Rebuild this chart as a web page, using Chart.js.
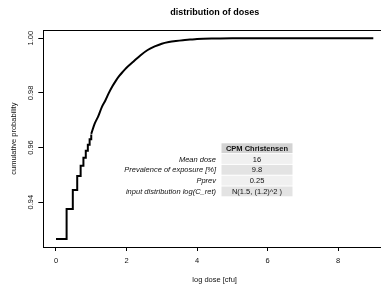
<!DOCTYPE html>
<html>
<head>
<meta charset="utf-8">
<script src="https://cdn.jsdelivr.net/npm/chart.js@4/dist/chart.umd.min.js"></script>
<style>
  html, body { margin: 0; padding: 0; overflow: hidden; background: #fff; }
</style>
</head>
<body>
<canvas id="doseChart" width="386" height="287"></canvas>
<script>
'use strict';

// stair part of the cdf (low doses, integer cfu)
let stepDose = [0, 0.301, 0.477, 0.602, 0.699, 0.778, 0.845, 0.903, 0.954, 1.0];
let stepProb = [0.9265, 0.9375, 0.9445, 0.9496, 0.9533, 0.9563, 0.9588, 0.9610, 0.9630, 0.9648];

// smooth part of the cdf
let curveDose = [1.0, 1.1, 1.2, 1.3, 1.4, 1.5, 1.6, 1.7, 1.8, 1.9, 2.0, 2.2, 2.4, 2.6, 2.8, 3.0, 3.2, 3.4, 3.6, 3.8, 4.0, 4.5, 5.0, 6.0, 7.0, 8.0, 9.0];
let curveProb = [0.9650, 0.9688, 0.9715, 0.9748, 0.9772, 0.9800, 0.9824, 0.9845, 0.9863, 0.9878, 0.9892, 0.9915, 0.9938, 0.9957, 0.9970, 0.9980, 0.9986, 0.9990, 0.9993, 0.9995, 0.9997, 0.9999, 1.0, 1.0, 1.0, 1.0, 1.0];

let xTicks = [0, 2, 4, 6, 8];
let yTicks = [0.94, 0.96, 0.98, 1.00];

// parameter table
let tableHeader = 'CPM Christensen';
let tableLabels = ['Mean dose', 'Prevalence of exposure [%]', 'Pprev', 'input distribution log(C_ret)'];
let tableValues = ['16', '9.8', '0.25', 'N(1.5, (1.2)^2 )'];

const FONT = '"Liberation Sans", Arial, Helvetica, sans-serif';
const TXT = '#111';

let ctx = document.getElementById('doseChart').getContext('2d');

function toPoints (xs, ys) {
  return xs.map((x, i) => ({ x: x, y: ys[i] }));
}

const boxPlugin = {
  id: 'boxPlugin',
  afterDraw (chart) {
    let c = chart.ctx;
    let a = chart.chartArea;
    c.save();
    c.strokeStyle = '#000';
    c.lineWidth = 1;
    c.strokeRect(Math.round(a.left) + 0.5, Math.round(a.top) + 0.5,
      Math.round(a.right - a.left) + 4, Math.round(a.bottom - a.top));
    c.restore();
  }
};

const tablePlugin = {
  id: 'tablePlugin',
  afterDraw (chart) {
    let c = chart.ctx;
    let cellLeft = 221.5;
    let cellW = 71;
    let rowH = 10.8;
    let top = 143.3;
    let labelRight = 216;
    c.save();
    c.textBaseline = 'middle';
    // header
    c.fillStyle = '#d3d3d3';
    c.fillRect(cellLeft, top, cellW, rowH - 1);
    c.fillStyle = TXT;
    c.font = 'bold 7.5px ' + FONT;
    c.textAlign = 'center';
    c.fillText(tableHeader, cellLeft + cellW / 2, top + (rowH - 1) / 2 + 0.5);
    tableLabels.forEach((lab, i) => {
      let y = top + rowH * (i + 1);
      c.fillStyle = i % 2 === 0 ? '#f0f0f0' : '#e3e3e3';
      c.fillRect(cellLeft, y, cellW, rowH - 1);
      c.fillStyle = TXT;
      c.font = '7.5px ' + FONT;
      c.textAlign = 'center';
      c.fillText(tableValues[i], cellLeft + cellW / 2, y + (rowH - 1) / 2 + 0.5);
      c.font = 'italic 7.5px ' + FONT;
      c.textAlign = 'right';
      c.fillText(lab, labelRight, y + (rowH - 1) / 2 + 0.5);
    });
    c.restore();
  }
};

let chart = new Chart(ctx, {
  type: 'line',
  data: {
    datasets: [{
      data: toPoints(stepDose, stepProb),
      stepped: 'before',
      borderColor: '#000',
      borderWidth: 2,
      pointRadius: 0,
      fill: false
    }, {
      data: toPoints(curveDose, curveProb),
      cubicInterpolationMode: 'monotone',
      borderColor: '#000',
      borderWidth: 2,
      pointRadius: 0,
      fill: false
    }]
  },
  options: {
    responsive: false,
    animation: false,
    layout: { padding: 0 },
    plugins: {
      legend: { display: false },
      tooltip: { enabled: false },
      title: {
        display: true,
        text: 'distribution of doses',
        fullSize: false,
        color: '#000',
        font: { family: FONT, size: 9, weight: 'bold', lineHeight: 1.2 },
        padding: { top: 7, bottom: 12.5 }
      }
    },
    scales: {
      x: {
        type: 'linear',
        min: -0.36,
        max: 9.36,
        afterBuildTicks: s => { s.ticks = xTicks.map(v => ({ value: v })); },
        afterFit: s => { s.height = 40; },
        ticks: {
          color: TXT,
          font: { family: FONT, size: 7.5 },
          padding: 5,
          maxRotation: 0,
          callback: v => String(v)
        },
        grid: { drawOnChartArea: false, tickLength: 4, color: '#000' },
        border: { display: false },
        title: {
          display: true,
          text: 'log dose [cfu]',
          color: TXT,
          font: { family: FONT, size: 7.5, lineHeight: 1.2 },
          padding: { top: 0, bottom: 3 }
        }
      },
      y: {
        type: 'linear',
        min: 0.9236,
        max: 1.0029,
        afterBuildTicks: s => { s.ticks = yTicks.map(v => ({ value: v })); },
        afterFit: s => { s.width = 43.3; },
        ticks: {
          color: TXT,
          font: { family: FONT, size: 7.5 },
          padding: 0,
          minRotation: 90,
          maxRotation: 90,
          crossAlign: 'center',
          callback: v => v.toFixed(2)
        },
        grid: { drawOnChartArea: false, tickLength: 5, color: '#000' },
        border: { display: false },
        title: {
          display: true,
          text: 'cumulative probability',
          color: TXT,
          font: { family: FONT, size: 7.5, lineHeight: 1.2 },
          padding: { top: 9.5, bottom: 0 }
        }
      }
    }
  },
  plugins: [boxPlugin, tablePlugin]
});
</script>
</body>
</html>
